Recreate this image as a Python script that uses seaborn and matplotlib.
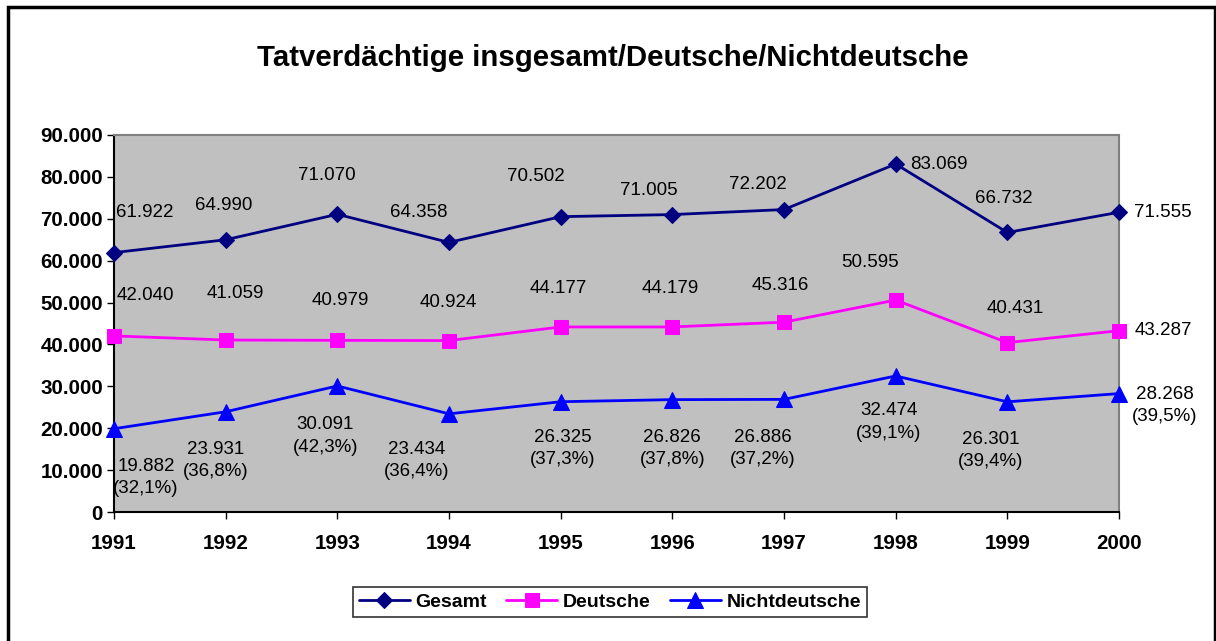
import pandas as pd
import matplotlib
matplotlib.use("Agg")
import matplotlib.pyplot as plt
import matplotlib.ticker as mticker
from matplotlib.patches import Rectangle
import seaborn as sns

# Daten
years = [1991, 1992, 1993, 1994, 1995, 1996, 1997, 1998, 1999, 2000]
gesamt = [61922, 64990, 71070, 64358, 70502, 71005, 72202, 83069, 66732, 71555]
deutsche = [42040, 41059, 40979, 40924, 44177, 44179, 45316, 50595, 40431, 43287]
nichtdeutsche = [19882, 23931, 30091, 23434, 26325, 26826, 26886, 32474, 26301, 28268]
series_names = ["Gesamt", "Deutsche", "Nichtdeutsche"]

# Label-Versatz in Pixeln (dx, dy)
off_gesamt = [(31, 40), (-2, 34), (-11, 39), (-30, 30), (-25, 40), (-24, 24),
              (-26, 25), (43, 0), (-4, 34), (44, 0)]
off_deutsche = [(31, 40), (10, 47), (3, 40), (-1, 38), (-2, 38), (-2, 38),
                (-4, 37), (-26, 38), (8, 34), (44, 0)]
off_nicht = [(32, -49), (-10, -49), (-12, -50), (-32, -47), (2, -47), (0, -49),
             (-21, -49), (-7, -46), (-17, -49), (46, -12)]

sns.set_style("white")
plt.rcParams["font.family"] = ["Liberation Sans", "DejaVu Sans"]
plt.rcParams["text.color"] = "black"
plt.rcParams["xtick.color"] = "black"
plt.rcParams["ytick.color"] = "black"


def fmt(v):
    return f"{v:,}".replace(",", ".")


fig = plt.figure(figsize=(12.16, 6.41), dpi=100)
ax = fig.add_axes([114 / 1216, 1 - 512 / 641, (1119 - 114) / 1216, (512 - 135) / 641])
ax.set_facecolor("#C0C0C0")

styles = {
    "Gesamt": dict(color="#000080", marker="D", markersize=8),
    "Deutsche": dict(color="#FF00FF", marker="s", markersize=10),
    "Nichtdeutsche": dict(color="#0000FF", marker="^", markersize=11),
}
values = {"Gesamt": gesamt, "Deutsche": deutsche, "Nichtdeutsche": nichtdeutsche}

for name in series_names:
    st = styles[name]
    sns.lineplot(x=years, y=values[name], ax=ax, color=st["color"], linewidth=2,
                 marker=st["marker"], markersize=st["markersize"],
                 markeredgecolor=st["color"], markerfacecolor=st["color"],
                 label=name, clip_on=False, zorder=3)

# Datenbeschriftungen
for i, y in enumerate(years):
    ax.annotate(fmt(gesamt[i]), (y, gesamt[i]), xytext=off_gesamt[i],
                textcoords="offset pixels", ha="center", va="center", fontsize=13.5)
    ax.annotate(fmt(deutsche[i]), (y, deutsche[i]), xytext=off_deutsche[i],
                textcoords="offset pixels", ha="center", va="center", fontsize=13.5)
    pct = nichtdeutsche[i] / gesamt[i] * 100
    txt = fmt(nichtdeutsche[i]) + "\n" + f"({pct:.1f}%)".replace(".", ",")
    ax.annotate(txt, (y, nichtdeutsche[i]), xytext=off_nicht[i],
                textcoords="offset pixels", ha="center", va="center", fontsize=13.5,
                linespacing=1.4)

ax.set_xlim(1991, 2000)
ax.set_ylim(0, 90000)
ax.set_xticks(years)
ax.set_yticks(range(0, 90001, 10000))
ax.yaxis.set_major_formatter(mticker.FuncFormatter(lambda v, p: fmt(int(v))))
ax.tick_params(axis="both", which="both", direction="out", length=5, width=1,
               color="black", labelsize=14.8, left=True, bottom=True)
for lab in ax.get_xticklabels() + ax.get_yticklabels():
    lab.set_fontweight("bold")
ax.tick_params(axis="x", pad=11)
ax.tick_params(axis="y", pad=3)
ax.set_xlabel("")
ax.set_ylabel("")

for side in ["top", "right"]:
    ax.spines[side].set_color("#808080")
    ax.spines[side].set_linewidth(1.5)
for side in ["left", "bottom"]:
    ax.spines[side].set_color("black")
    ax.spines[side].set_linewidth(1.5)

ax.get_legend().remove()
h, l = ax.get_legend_handles_labels()
leg = fig.legend(h, l, loc="center", bbox_to_anchor=(610 / 1216, 1 - 602 / 641),
                 ncol=3, frameon=True, fancybox=False, edgecolor="black",
                 prop={"weight": "bold", "size": 14}, handlelength=2.6,
                 handletextpad=0.3, columnspacing=1.0, borderpad=0.3)
leg.get_frame().set_linewidth(1.2)

fig.text(613 / 1216, 1 - 58 / 641, "Tatverdächtige insgesamt/Deutsche/Nichtdeutsche",
         ha="center", va="center", fontsize=21.2, fontweight="bold")

# Rahmen um das Diagramm
fig.patches.append(Rectangle((7.5 / 1216, -0.05), (1215 - 7.5) / 1216, 1.05 - 7.5 / 641,
                             transform=fig.transFigure, fill=False,
                             edgecolor="black", linewidth=2.5))

fig.savefig("out.png", dpi=100)
